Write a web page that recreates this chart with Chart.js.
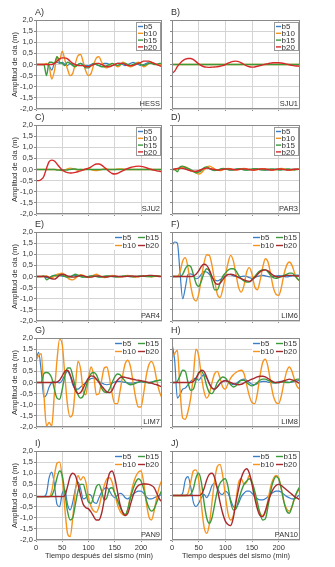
<!DOCTYPE html>
<html>
<head>
<meta charset="utf-8">
<script src="https://cdn.jsdelivr.net/npm/chart.js@4.4.1/dist/chart.umd.min.js"></script>
<style>
  body { margin: 0; background: #fff; width: 335px; height: 567px; overflow: hidden; position: relative; }
  .panel { position: absolute; }
</style>
</head>
<body>
<script>
// time axis (minutes after the earthquake), one sample every 5 min
const times = [0,5,10,15,20,25,30,35,40,45,50,55,60,65,70,75,80,85,90,95,100,105,110,115,120,125,130,135,140,145,150,155,160,165,170,175,180,185,190,195,200,205,210,215,220,225,230,235,240];
const seriesNames = ['b5', 'b10', 'b15', 'b20'];
const panelLetters = ['A)', 'B)', 'C)', 'D)', 'E)', 'F)', 'G)', 'H)', 'I)', 'J)'];
const stations = ['HESS', 'SJU1', 'SJU2', 'PAR3', 'PAR4', 'LIM6', 'LIM7', 'LIM8', 'PAN9', 'PAN10'];
const xTickValues = [0, 50, 100, 150, 200];

const flat = [0,0,0,0,0,0,0,0,0,0, 0,0,0,0,0,0,0,0,0,0, 0,0,0,0,0,0,0,0,0,0, 0,0,0,0,0,0,0,0,0,0, 0,0,0,0,0,0,0,0,0];

// A) HESS
const hessB5  = [0,0,0,0,0,-0.05,-0.25,0.05,0.1,0.05, 0.1,0,-0.05,0.05,0,-0.05,0,0.05,0,-0.05, -0.05,0,0.05,0,-0.05,0,0.05,0.05,0,-0.05, 0,0.05,0.05,0,-0.05,0,0.05,0.1,0.05,0, -0.05,0,0.05,0.1,0.1,0.05,0,0,-0.05];
const hessB10 = [0,0,0,0,0.05,-0.1,-0.65,-0.3,0.35,0.2, 0.6,0.2,-0.2,-0.5,-0.4,0.05,0.4,0.45,0.1,-0.3, -0.5,-0.4,0,0.3,0.35,0.1,-0.1,-0.15,-0.05,0.05, 0,-0.1,-0.05,0.1,0.05,-0.05,-0.1,-0.05,0.05,0.1, 0,-0.1,-0.05,0.05,0.1,0.05,0,0,-0.05];
const hessB15 = [0,0,0,0,-0.5,0.1,0.1,0.05,0.35,0.1, 0.05,-0.05,0.1,0.05,-0.05,-0.1,0,0.05,-0.05,-0.15, -0.15,-0.05,0.05,0,-0.05,-0.1,-0.1,-0.05,0,0.05, 0,-0.05,0,0.05,0.05,0,-0.05,0,0.05,0.05, 0,-0.05,0,0.05,0.05,0,0,0.05,0.05];
const hessB20 = [0,0,0,0,0,0,0,0.05,0.15,0.25, 0.3,0.3,0.25,0.15,0.05,0,-0.05,-0.05,-0.05,-0.1, -0.1,-0.05,0,0.05,0.05,0,-0.05,-0.1,-0.1,-0.05, 0,0.05,0.05,0.05,0,-0.05,-0.05,-0.05,0,0.05, 0.1,0.15,0.15,0.15,0.1,0.05,0,-0.05,-0.1];

// B) SJU1
const sju1B20 = [-0.4,-0.3,-0.1,0.05,0.17,0.24,0.27,0.27,0.22,0.13, 0.03,-0.05,-0.1,-0.12,-0.13,-0.12,-0.11,-0.1,-0.08,-0.05, 0,0.06,0.11,0.14,0.15,0.13,0.07,0,-0.06,-0.1, -0.12,-0.11,-0.08,-0.05,-0.02,0.01,0.04,0.06,0.08,0.08, 0.08,0.07,0.05,0.02,-0.01,-0.04,-0.06,-0.07,-0.08];

// C) SJU2
const sju2B10 = [0,0,0,0,0,0,0,0,0,-0.03, -0.05,-0.02,0.03,0.06,0.04,0,-0.02,0,-0.02,0.03, 0.04,0,-0.04,-0.05,-0.03,0,0.03,0.02,0,0, 0,0.02,0.03,0.02,0,0,0,0,0,0, 0,0,0,0,0,0,0,0,0];
const sju2B15 = [0,0,0,0,0,0,0,0,-0.02,-0.03, -0.04,-0.03,-0.02,0,0.02,0.02,0,0,0,0, 0,0,0,0,0,0,0,0,0,0, 0,0,0,0,0,0,0,0,0,0, 0,0,0,0,0,0,0,0,0];
const sju2B20 = [-0.5,-0.5,-0.45,-0.3,0.05,0.35,0.42,0.38,0.25,0.1, -0.02,-0.1,-0.14,-0.16,-0.15,-0.13,-0.1,-0.06,-0.02,0.02, 0.06,0.12,0.2,0.25,0.25,0.2,0.1,0,-0.1,-0.18, -0.2,-0.18,-0.12,-0.06,0,0.05,0.09,0.12,0.14,0.15, 0.14,0.12,0.08,0.04,0,-0.03,-0.06,-0.08,-0.1];

// D) PAR3
const par3B5  = [0,0,0.03,0.08,0.1,0.05,-0.02,-0.05,-0.08,-0.12, -0.1,-0.03,0.05,0.08,0.05,0,-0.03,-0.02,0,0.02, 0.03,0,-0.02,0,0.02,0.03,0.02,0,-0.02,-0.02, 0,0.02,0.03,0.02,0,-0.02,-0.03,-0.02,0,0.02, 0.03,0.02,0,-0.02,-0.02,0,0.02,0.02,0];
const par3B10 = [0,0,0,0.05,0.1,0.12,0.05,-0.05,-0.1,-0.15, -0.2,-0.15,-0.02,0.1,0.15,0.1,0.02,-0.03,-0.05,-0.02, 0.03,0.05,0.03,0,-0.02,0,0.03,0.05,0.03,0, -0.02,-0.03,0,0.03,0.04,0.02,0,-0.02,-0.02,0, 0.03,0.05,0.03,0,-0.03,-0.03,0,0.02,0];
const par3B15 = [0,0,-0.1,0.12,0.15,0.1,0.05,0,-0.08,-0.15, -0.12,-0.05,0.08,0.12,0.05,-0.02,-0.05,-0.03,0.02,0.05, 0.03,0,-0.03,-0.02,0.02,0.04,0.02,-0.02,-0.03,0, 0.03,0.04,0.02,-0.01,-0.03,-0.02,0.01,0.03,0.02,0, -0.02,-0.02,0,0.02,0.02,0,-0.02,0,0.02];
const par3B20 = [0,0.02,0.05,0.06,0.05,0.02,-0.02,-0.06,-0.08,-0.08, -0.05,0,0.04,0.06,0.05,0.02,0,-0.02,-0.02,0, 0.02,0.03,0.02,0,-0.01,0,0.02,0.03,0.02,0, -0.02,-0.02,0,0.02,0.03,0.02,0,-0.02,-0.02,0, 0.02,0.02,0,-0.02,-0.02,0,0.01,0.01,0];

// E) PAR4
const par4B5  = [0,0,0,0,-0.05,-0.05,0,0.05,0.08,0.05, 0.02,0,-0.02,0,0.03,0.05,0.02,0,-0.02,-0.02, 0,0.02,0.02,0,-0.02,-0.02,0,0.02,0.02,0, -0.01,-0.02,0,0.02,0.02,0,-0.01,-0.01,0,0.01, 0.02,0.02,0.01,0,0,0.01,0.02,0.01,0];
const par4B10 = [0,0,0,0,0.02,-0.03,-0.05,0,0.1,0.12, 0.15,0.08,-0.05,-0.13,-0.15,-0.08,0.02,0.08,0.05,-0.02, -0.05,0,0.06,0.1,0.05,-0.02,-0.05,-0.02,0.03,0.05, 0.02,-0.02,-0.03,0,0.04,0.05,0.02,-0.02,-0.04,-0.02, 0.02,0.04,0.02,0,-0.02,0,0.02,0.02,0];
const par4B15 = [0,0,0,0.03,-0.15,-0.08,0.02,0.05,0.03,0.08, 0.05,0,-0.03,-0.02,0.05,0.1,0.06,0,-0.03,-0.02, 0,0.03,0.02,0,-0.02,-0.01,0.01,0.02,0.01,0, -0.01,-0.01,0,0.01,0.02,0.01,0,-0.01,0,0.01, 0.02,0.01,0,0,0,0.01,0.02,0.01,0];
const par4B20 = [0,0,0,0,0,-0.05,-0.1,-0.12,-0.05,0.05, 0.1,0.08,0.03,0,-0.03,-0.02,0.02,0.05,0.04,0, -0.03,-0.03,0,0.02,0.02,0,-0.02,-0.02,0,0.01, 0.02,0.01,0,-0.01,0,0.01,0.02,0.02,0.01,0, 0.01,0.02,0.03,0.05,0.05,0.04,0.02,0,-0.01];

// F) LIM6
const lim6B5  = [1.4,1.55,1.5,0.2,-1.0,-0.5,0.1,0.12,0.05,-0.1, -0.05,0.1,0.22,0.2,0.1,-0.05,-0.15,-0.2,-0.15,-0.05, 0.05,0.1,0.08,0.03,0,-0.02,0,0.02,0,-0.05, -0.08,-0.05,0,0.03,0.05,0.03,0,-0.02,0,0.02, 0.04,0.03,0,-0.02,0,0.03,0.05,0.06,0.05];
const lim6B10 = [0,0,0,0.2,0.7,0.85,0.4,-0.4,-0.95,-1.1, -0.8,-0.1,0.6,0.98,0.95,0.5,-0.2,-0.8,-0.95,-0.6, 0,0.6,0.95,0.7,0.1,-0.5,-0.7,-0.4,0.2,0.4, 0.1,-0.45,-0.6,-0.2,0.4,0.8,0.65,0.1,-0.5,-0.8, -0.85,-0.5,0.1,0.5,0.65,0.5,0.15,-0.1,-0.2];
const lim6B15 = [0,0,0,0,0.1,0.35,0.5,0.45,0.1,-0.3, -0.45,-0.2,0.15,0.35,0.25,-0.2,-0.6,-0.6,-0.3,0, 0.15,0.28,0.35,0.35,0.25,0.05,-0.1,-0.2,-0.25,-0.25, -0.15,0,0.15,0.25,0.3,0.3,0.2,0.05,-0.05,-0.08, -0.05,0,0.05,0.1,0.15,0.15,0.05,-0.1,-0.2];
const lim6B20 = [0,0,0,0,0,0,0,0,0.02,0.1, 0.25,0.45,0.55,0.5,0.3,0,-0.25,-0.35,-0.3,-0.15, 0,0.08,0.1,0.08,0.02,-0.05,-0.1,-0.15,-0.2,-0.22, -0.15,-0.05,0.08,0.2,0.28,0.3,0.25,0.15,0.05,0, -0.02,0,0.02,0.05,0.05,0.05,0.03,0.02,0.02];

// G) LIM7
const lim7B5  = [1.0,1.35,0.5,-0.65,-0.55,-0.2,0,0.05,0,-0.02, 0.1,0.35,0.5,0.3,-0.1,-0.28,-0.3,-0.2,-0.1,0, 0.1,0.18,0.2,0.15,0.05,-0.02,-0.08,-0.1,-0.08,-0.03, 0.02,0.05,0.05,0.03,0,-0.02,-0.03,-0.02,0,0.02, 0.03,0.02,0,0,0.02,0.05,0.08,0.1,0.1];
const lim7B10 = [1.0,1.2,1.3,-0.5,-1.95,-1.8,-1.95,-0.5,1.0,1.95, 1.7,0.3,-1.0,-1.55,-1.4,-0.2,0.95,0.6,-0.4,-0.55, 0.2,0.7,0.3,-0.55,-0.5,0.1,0.65,0.7,0.2,-0.5, -0.95,-0.95,-0.4,0.3,0.85,1.0,0.7,0,-0.7,-1.1, -1.1,-0.5,0.3,0.8,0.95,0.7,0.1,-0.4,-0.7];
const lim7B15 = [0,0,0,0.4,0.45,0.4,0.2,-0.3,-0.7,-0.75, -0.3,0.3,0.65,0.65,0.3,-0.2,-0.55,-0.7,-0.6,-0.2, 0.15,0.4,0.45,0.35,0.05,-0.25,-0.42,-0.45,-0.3,0, 0.25,0.38,0.35,0.2,0.05,-0.05,-0.1,-0.08,-0.03,0.02, 0.05,0.03,0,-0.02,0,0.05,0.08,0.1,0.1];
const lim7B20 = [0,0,0,0,0,0,0,0,0.02,0.1, 0.3,0.5,0.55,0.35,0,-0.35,-0.5,-0.45,-0.25,0, 0.2,0.3,0.28,0.15,0,-0.15,-0.3,-0.42,-0.45,-0.35, -0.1,0.1,0.22,0.25,0.23,0.2,0.17,0.15,0.12,0.1, 0.08,0.06,0.03,0,-0.03,-0.07,-0.1,-0.15,-0.2];

// H) LIM8
const lim8B5  = [1.75,1.0,-0.7,-0.55,-0.3,-0.25,-0.1,0.05,0.15,0.2, 0.1,0.25,0.35,0.2,-0.05,-0.25,-0.3,-0.2,-0.05,0.05, 0.1,0.05,-0.05,-0.1,-0.05,0.05,0.12,0.15,0.1,0, -0.08,-0.1,-0.05,0.02,0.05,0.05,0.02,0,-0.02,0, 0.03,0.05,0.05,0.02,0,0.02,0.05,0.08,0.1];
const lim8B10 = [1.1,1.3,1.45,-0.3,-1.6,-1.65,-1.3,-0.7,0.3,1.5, 1.2,0.3,-0.4,-0.7,-0.5,0,0.4,0.5,0.2,-0.2, -0.3,-0.05,0.2,0.35,0.45,0.52,0.55,0.4,-0.1,-0.6, -0.9,-0.95,-0.5,0.3,0.9,1.05,0.7,0,-0.6,-0.9, -0.95,-0.6,0,0.5,0.7,0.5,0.1,-0.2,-0.3];
const lim8B15 = [0,0,0.05,0.3,0.55,0.5,0,-0.35,-0.3,0.1, 0.45,0.5,0.3,-0.15,-0.45,-0.5,-0.3,0,0.15,0.25, 0.2,0.05,-0.1,-0.2,-0.15,0,0.1,0.1,0,-0.1, -0.15,-0.1,0,0.1,0.15,0.15,0.1,0.05,0,-0.02, 0,0.02,0.02,0,0,0.05,0.1,0.15,0.15];
const lim8B20 = [0,0,0,0,0,0,0,0,0.05,0.2, 0.4,0.55,0.5,0.25,-0.05,-0.25,-0.3,-0.2,-0.05,0.05, 0.08,0.05,0,-0.05,-0.08,-0.1,-0.08,-0.02,0.05,0.1, 0.15,0.2,0.25,0.28,0.28,0.25,0.18,0.1,0.03,0, 0,0.03,0.08,0.12,0.15,0.12,0.08,0.02,-0.05];

// I) PAN9
const pan9B5  = [-0.05,-0.05,-0.05,-0.05,0.1,0.8,1.05,0.5,-0.4,-0.5, 0.1,0.25,-0.4,-0.65,-0.3,0.3,0.6,0.3,-0.15,-0.1, 0.05,0,-0.3,-0.35,-0.1,0.15,0.3,0.35,0.2,0, -0.1,0,0.1,0.05,-0.1,-0.15,-0.05,0.05,0.15,0.2, 0.2,0.1,-0.05,-0.15,-0.15,-0.1,-0.05,0,0.05];
const pan9B10 = [-0.05,-0.05,-0.05,-0.05,-0.05,-0.05,0.2,0.9,1.45,1.5, 0.8,-0.6,-1.7,-1.85,-1.0,0.2,0.9,0.7,0.85,0.6, -0.1,-0.5,-0.7,-0.75,-0.5,0,0.45,0.75,0.8,0.6, 0.1,-0.4,-0.7,-0.85,-0.9,-0.6,0,0.5,0.85,1.05, 1.1,0.6,-0.3,-0.95,-1.1,-0.7,-0.1,0.4,0.7];
const pan9B15 = [-0.05,-0.05,-0.05,-0.05,-0.05,-0.05,0,0.3,0.8,1.1, 0.9,0.1,-0.7,-1.1,-1.0,-0.4,0.2,0.5,0.5,0.1, -0.3,-0.35,0,0.4,0.5,0.2,-0.2,-0.1,0.3,0.35, 0.1,-0.2,-0.5,-0.75,-0.85,-0.6,-0.1,0.3,0.6,0.75, 0.65,0.3,-0.2,-0.55,-0.7,-0.6,-0.3,0,0.25];
const pan9B20 = [-0.05,-0.05,-0.05,-0.05,-0.05,-0.05,-0.05,-0.05,-0.05,-0.05, -0.05,0,0.4,0.85,1.0,0.9,0.5,0,-0.4,-0.55, -0.6,-0.75,-0.95,-1.1,-1.1,-0.8,-0.2,0.5,1.0,1.1, 0.8,0.2,-0.4,-0.75,-0.9,-0.8,-0.4,0,0.3,0.45, 0.5,0.52,0.52,0.5,0.45,0.35,0.1,-0.15,-0.3];

// J) PAN10
const pan10B5  = [0,0,0,0,0.1,0.7,0.85,0.4,-0.3,-0.5, -0.35,-0.1,0.05,-0.1,0.1,0.45,0.55,0.35,0.1,0.05, 0.2,0.1,-0.2,-0.5,-0.55,-0.35,-0.05,0.1,0.2,0.2, 0.1,-0.05,-0.15,-0.2,-0.2,-0.15,-0.05,0.05,0.15,0.2, 0.2,0.15,0.05,-0.05,-0.1,-0.15,-0.15,-0.05,0.05];
const pan10B10 = [0,0,0,0,0,0,0.1,0.6,1.1,1.15, 0.7,-0.4,-1.4,-1.7,-1.3,-0.3,0.7,1.3,1.4,0.9, 0,-0.8,-1.1,-0.9,-0.2,0.6,0.75,0.5,0.6,0.9, 0.6,0,-0.5,-0.8,-0.9,-0.75,-0.2,0.4,0.75,0.9, 0.8,0.3,-0.3,-0.6,-0.7,-0.5,-0.1,0.15,0.3];
const pan10B15 = [0,0,0,0,0,0,0,0.05,0.3,0.8, 1.0,0.6,-0.3,-1.0,-1.25,-1.0,-0.4,0.2,0.55,0.7, 0.75,0.4,-0.3,-0.65,-0.6,-0.2,0.2,0.5,0.65,0.75, 0.6,0.2,-0.3,-0.8,-1.1,-1.05,-0.5,0.2,0.65,0.85, 0.75,0.3,-0.3,-0.7,-0.8,-0.5,-0.1,0.2,0.4];
const pan10B20 = [0,0,0,0,0,0,0,0,0,0, 0,0.05,0.3,0.7,0.95,1.0,0.8,0.3,-0.3,-0.8, -1.15,-1.3,-1.35,-1.0,-0.3,0.3,0.8,1.1,1.2,1.0, 0.5,-0.1,-0.6,-0.9,-0.95,-0.7,-0.3,0.05,0.3,0.45, 0.5,0.45,0.35,0.25,0.15,0.05,-0.05,-0.12,-0.2];

const panelSeries = [
  [hessB5, hessB10, hessB15, hessB20],
  [flat, flat, flat, sju1B20],
  [flat, sju2B10, sju2B15, sju2B20],
  [par3B5, par3B10, par3B15, par3B20],
  [par4B5, par4B10, par4B15, par4B20],
  [lim6B5, lim6B10, lim6B15, lim6B20],
  [lim7B5, lim7B10, lim7B15, lim7B20],
  [lim8B5, lim8B10, lim8B15, lim8B20],
  [pan9B5, pan9B10, pan9B15, pan9B20],
  [pan10B5, pan10B10, pan10B15, pan10B20]
];

panelSeries.forEach((list, i) => list.forEach((arr, k) => {
  if (arr.length !== times.length) throw new Error('bad length ' + stations[i] + ' ' + seriesNames[k] + ' ' + arr.length);
}));

const FONT = "'Liberation Sans', Arial, sans-serif";
const INK = '#333';
const GRID = '#d4d4d4';
const BLUE = '#3a7ec6', ORANGE = '#f7941e', GREEN = '#3b9b3b';
const RED_LIGHT = '#d62a2a', RED_DARK = '#a82a2d';

Chart.defaults.font.family = FONT;
Chart.defaults.color = INK;

const plotTops = [20, 125, 232, 338, 451];
const plotH = 89;

// frame, panel letter, station name and in-plot legend
const panelDecor = {
  id: 'panelDecor',
  afterDatasetsDraw(chart, args, opts) {
    const { ctx, chartArea: a } = chart;
    ctx.save();
    ctx.strokeStyle = '#8a8a8a';
    ctx.lineWidth = 1;
    ctx.strokeRect(Math.round(a.left) + 0.5, Math.round(a.top) + 0.5, Math.round(a.right - a.left) - 1, Math.round(a.bottom - a.top) - 1);

    ctx.fillStyle = INK;
    ctx.font = '7.5px ' + FONT;
    ctx.textAlign = 'right';
    ctx.textBaseline = 'alphabetic';
    ctx.fillText(opts.station, a.right - 2, a.bottom - 3);

    ctx.font = '9px ' + FONT;
    ctx.textAlign = 'left';
    ctx.textBaseline = 'middle';
    ctx.fillText(opts.letter, a.left - 1, a.top - 7);

    const ds = chart.data.datasets;
    ctx.font = '8px ' + FONT;
    ctx.textBaseline = 'middle';
    if (!opts.twoCol) {
      const w = 25, h = 29;
      const x0 = a.right - w - 1, y0 = a.top + 2;
      ctx.fillStyle = '#fff';
      ctx.fillRect(x0, y0, w, h);
      ctx.strokeStyle = '#9a9a9a';
      ctx.strokeRect(x0 + 0.5, y0 + 0.5, w - 1, h - 1);
      ds.forEach((d, k) => {
        const cy = y0 + 4.5 + k * 6.8;
        ctx.strokeStyle = d.borderColor;
        ctx.lineWidth = 1.4;
        ctx.beginPath(); ctx.moveTo(x0 + 2, cy); ctx.lineTo(x0 + 7, cy); ctx.stroke();
        ctx.fillStyle = INK;
        ctx.fillText(d.label, x0 + 7.5, cy + 0.5);
      });
    } else {
      const w = 47, h = 17;
      const x0 = a.right - w - 1, y0 = a.top + 1;
      ctx.fillStyle = '#fff';
      ctx.fillRect(x0, y0, w, h);
      const slots = [[0, 0], [0, 1], [1, 0], [1, 1]]; // [col,row] for b5,b10,b15,b20
      ds.forEach((d, k) => {
        const [c, r] = slots[k];
        const lx = x0 + 1 + c * 23;
        const cy = y0 + 4.5 + r * 8;
        ctx.strokeStyle = d.borderColor;
        ctx.lineWidth = 1.4;
        ctx.beginPath(); ctx.moveTo(lx, cy); ctx.lineTo(lx + 7, cy); ctx.stroke();
        ctx.fillStyle = INK;
        ctx.fillText(d.label, lx + 7.5, cy + 0.5);
      });
    }
    ctx.restore();
  }
};

panelSeries.forEach((series, i) => {
  const col = i % 2, row = Math.floor(i / 2);
  const isLeft = col === 0, isBottom = row === 4;
  const xAxisH = isBottom ? 24 : 6;
  const left = isLeft ? 0 : 168;
  const width = isLeft ? 166 : 167;
  const top = plotTops[row] - 14;
  const height = 14 + plotH + xAxisH;

  const div = document.createElement('div');
  div.className = 'panel';
  div.style.left = left + 'px';
  div.style.top = top + 'px';
  div.style.width = width + 'px';
  div.style.height = height + 'px';
  const canvas = document.createElement('canvas');
  canvas.width = width;
  canvas.height = height;
  div.appendChild(canvas);
  document.body.appendChild(div);

  const colors = [BLUE, ORANGE, GREEN, row < 2 ? RED_LIGHT : RED_DARK];

  new Chart(canvas.getContext('2d'), {
    type: 'line',
    data: {
      datasets: series.map((vals, k) => ({
        label: seriesNames[k],
        data: times.map((t, j) => ({ x: t, y: vals[j] })),
        borderColor: colors[k],
        borderWidth: k === 0 ? 1.2 : 1.4,
        pointRadius: 0,
        fill: false,
        cubicInterpolationMode: 'monotone',
        order: 4 - k
      }))
    },
    options: {
      responsive: false,
      animation: false,
      devicePixelRatio: 1,
      layout: { padding: { top: 14, right: isLeft ? 4 : 35, bottom: 0, left: 0 } },
      plugins: {
        legend: { display: false },
        tooltip: { enabled: false },
        panelDecor: { station: stations[i], letter: panelLetters[i], twoCol: row >= 2 }
      },
      scales: {
        x: {
          type: 'linear',
          min: 0,
          max: 240,
          afterBuildTicks: (s) => { s.ticks = xTickValues.map(v => ({ value: v })); },
          afterFit: (s) => { s.height = xAxisH; },
          ticks: { display: isBottom, autoSkip: false, font: { size: 7.5 }, padding: 1, maxRotation: 0 },
          grid: { color: GRID, tickLength: 2, tickColor: '#8a8a8a' },
          border: { display: false },
          title: {
            display: isBottom,
            text: 'Tiempo después del sismo (min)',
            font: { size: 7.5 },
            padding: { top: 0, bottom: 4 }
          }
        },
        y: {
          min: -2,
          max: 2,
          afterFit: (s) => { s.width = isLeft ? 36 : 4; },
          ticks: {
            display: isLeft,
            autoSkip: false,
            stepSize: 0.5,
            font: { size: 7.5 },
            padding: 1,
            callback: (v) => v.toFixed(1).replace('.', ',')
          },
          grid: { color: GRID, tickLength: 2, tickColor: '#8a8a8a' },
          border: { display: false },
          title: {
            display: isLeft,
            text: 'Amplitud de ola (m)',
            font: { size: 7.5 },
            padding: { top: 10, bottom: 0 }
          }
        }
      }
    },
    plugins: [panelDecor]
  });
});
</script>
</body>
</html>
